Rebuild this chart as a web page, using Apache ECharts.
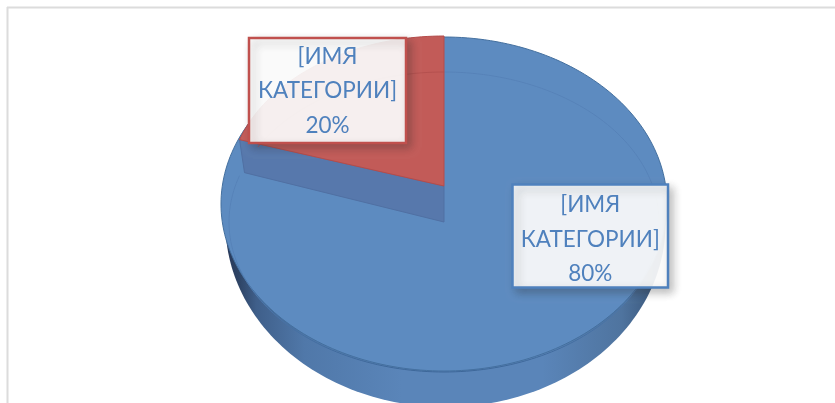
<!DOCTYPE html>
<html>
<head>
<meta charset="utf-8">
<script src="https://cdn.jsdelivr.net/npm/echarts@6/dist/echarts.min.js"></script>
<style>html,body{margin:0;padding:0;background:#fff}#c{width:835px;height:403px}</style>
</head>
<body>
<div id="c"></div>
<script>
const categories = ['[ИМЯ\nКАТЕГОРИИ]', '[ИМЯ\nКАТЕГОРИИ]'];
const values = [80, 20];

const total = values.reduce((a, b) => a + b, 0);
const face = { cx: 444, rx: 215, ry: 150, blueCy: 222, redCy: 186 };
const bevel = { cx: 444, cy: 204, rx: 223, ry: 167 };
const wall = { cx: 445.5, cy: 224, rx: 220, ry: 183 };
const palette = [
  { fill: '#5d8bc0', box: '#4f81bd' },
  { fill: '#c25b58', box: '#c0504d' }
];
const boxes = [
  { x: 512.5, y: 184.5, width: 155.5, height: 103, textDy: 3.5 },
  { x: 249, y: 38, width: 157, height: 105, textDy: 0.5 }
];

function pt(e, cy, deg) {
  const a = deg * Math.PI / 180;
  return [e.cx + e.rx * Math.sin(a), cy + e.ry * -Math.cos(a)];
}
function arc(e, cy, from, to) {
  const pts = [];
  const n = Math.max(2, Math.round(Math.abs(to - from) / 1.5));
  for (let i = 0; i <= n; i++) pts.push(pt(e, cy, from + (to - from) * i / n));
  return pts;
}

function renderItem(params, api) {
  const i = params.dataIndex;
  const start = values.slice(0, i).reduce((a, b) => a + b, 0) / total * 360;
  const end = start + api.value(0) / total * 360;
  const c = palette[i];
  const children = [];
  if (i === 0) {
    children.push({
      type: 'polygon', z2: 1,
      shape: { points: arc(wall, wall.cy, 0, 360) },
      style: {
        fill: new echarts.graphic.LinearGradient(0, 0, 1, 0, [
          { offset: 0, color: '#28395a' },
          { offset: 0.03, color: '#2e4465' },
          { offset: 0.07, color: '#3f5f8a' },
          { offset: 0.18, color: '#5078a9' },
          { offset: 0.4, color: '#5a85b9' },
          { offset: 0.72, color: '#5a85b9' },
          { offset: 0.9, color: '#4f749f' },
          { offset: 0.96, color: '#3e5d83' },
          { offset: 1, color: '#2f4a6b' }
        ])
      }
    });
    children.push({
      type: 'polygon', z2: 2,
      shape: { points: arc(bevel, bevel.cy, 0, 360) },
      style: { fill: c.fill, stroke: '#44709f', lineWidth: 1 }
    });
    children.push({
      type: 'polyline', z2: 3,
      shape: { points: arc(face, face.blueCy, start, end) },
      style: {
        fill: 'none', lineWidth: 1,
        stroke: new echarts.graphic.LinearGradient(0, 0, 0, 1, [
          { offset: 0, color: '#5682b8' },
          { offset: 0.6, color: '#5682b8' },
          { offset: 1, color: '#3c6698' }
        ])
      }
    });
    const cut = [pt(face, face.redCy, end), [face.cx, face.redCy], [face.cx, face.blueCy], pt(face, face.blueCy, end)];
    cut[3] = [cut[3][0] + 5, cut[3][1] - 3];
    children.push({
      type: 'polygon', z2: 5,
      shape: { points: cut },
      style: { fill: '#5778ac', stroke: '#5070a3', lineWidth: 1 }
    });
  } else {
    const pts = [[face.cx, face.redCy]].concat(arc(face, face.redCy, start, end));
    children.push({
      type: 'polygon', z2: 6,
      shape: { points: pts },
      style: { fill: c.fill, stroke: '#b54c4a', lineWidth: 1 }
    });
    children.push({
      type: 'polyline', z2: 7,
      shape: { points: arc(face, face.blueCy, Math.max(start, 300), end) },
      style: { fill: 'none', stroke: '#b24e4c', lineWidth: 1, opacity: 0.8 }
    });
  }
  const b = boxes[i];
  children.push({
    type: 'rect', z2: 20,
    shape: { x: b.x, y: b.y, width: b.width, height: b.height },
    style: {
      fill: 'rgba(255,255,255,0.91)', stroke: c.box, lineWidth: 2.5,
      shadowBlur: 8, shadowOffsetX: 4, shadowOffsetY: 4, shadowColor: 'rgba(40,40,40,0.3)'
    }
  });
  children.push({
    type: 'text', z2: 21,
    style: {
      x: b.x + b.width / 2, y: b.y + b.height / 2 + b.textDy,
      text: categories[i] + '\n' + Math.round(api.value(0) / total * 100) + '%',
      fill: '#4f81bd', font: '22.5px Lato', align: 'center', verticalAlign: 'middle', lineHeight: 34.5
    }
  });
  return { type: 'group', children };
}

const chart = echarts.init(document.getElementById('c'), null, { renderer: 'canvas' });
chart.setOption({
  animation: false,
  backgroundColor: '#ffffff',
  graphic: [
    { type: 'line', shape: { x1: 7, y1: 7.5, x2: 835, y2: 7.5 }, style: { stroke: '#dcdcdc', lineWidth: 2 } },
    { type: 'line', shape: { x1: 7.5, y1: 7, x2: 7.5, y2: 403 }, style: { stroke: '#dcdcdc', lineWidth: 2 } }
  ],
  series: [{
    type: 'custom',
    coordinateSystem: 'none',
    renderItem,
    data: values.map(v => [v]),
    encode: { value: 0 },
    silent: true
  }]
});
</script>
</body>
</html>
